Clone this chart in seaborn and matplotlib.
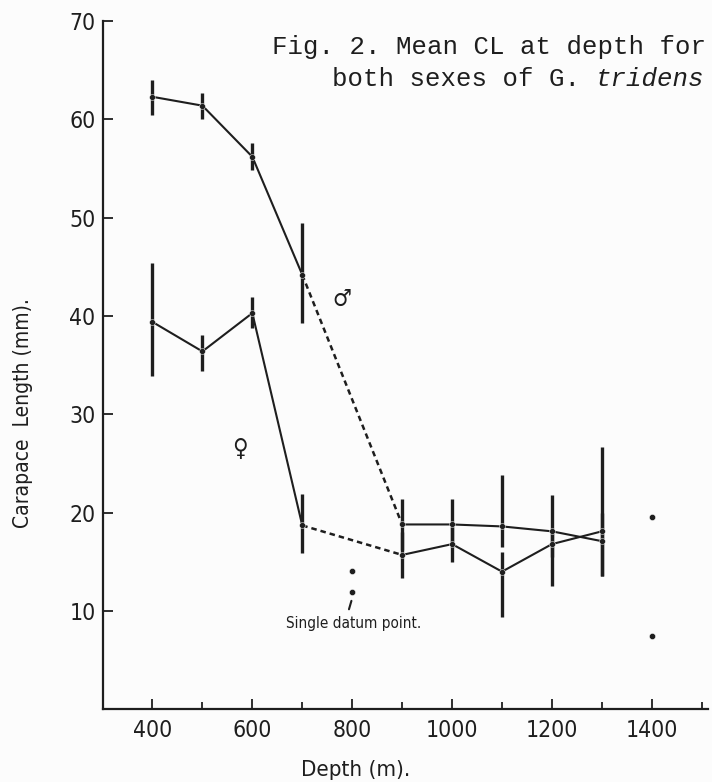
import matplotlib
matplotlib.use("Agg")
import matplotlib.pyplot as plt
import seaborn as sns
import pandas as pd
from matplotlib.ticker import FixedLocator

# mean carapace length (mm) by depth (m)
depth_m = [400, 500, 600, 700, 900, 1000, 1100, 1200, 1300]
male_cl = [62.3, 61.4, 56.2, 44.2, 18.8, 18.8, 18.6, 18.1, 17.1]
male_lo = [60.5, 60.0, 54.9, 39.3, 16.2, 16.5, 16.5, 15.5, 13.6]
male_hi = [64.0, 62.7, 57.6, 49.5, 21.4, 21.4, 23.8, 21.8, 26.7]
female_cl = [39.4, 36.4, 40.3, 18.7, 15.7, 16.8, 14.0, 16.8, 18.1]
female_lo = [33.9, 34.4, 38.8, 15.9, 13.4, 15.0, 9.4, 12.5, 13.6]
female_hi = [45.4, 38.1, 41.9, 21.9, 18.0, 18.5, 16.0, 18.0, 20.0]

# isolated single datum points
single_depth = [800, 800, 1400, 1400]
single_cl = [14.1, 11.9, 19.6, 7.5]

x_ticks = [400, 600, 800, 1000, 1200, 1400]
x_minor = [500, 700, 900, 1100, 1300, 1500]
y_ticks = [10, 20, 30, 40, 50, 60, 70]

df = pd.DataFrame({"depth": depth_m, "male": male_cl, "female": female_cl})

sns.set_style("ticks")
plt.rcParams["font.family"] = ["DejaVu Sans"]
plt.rcParams["font.stretch"] = "condensed"
ink = "#1e1e1e"

fig = plt.figure(figsize=(7.12, 7.82), dpi=100, facecolor="#fcfcfc")
ax = fig.add_axes([0.144, 0.093, 0.85, 0.880])
ax.set_facecolor("#fcfcfc")

for col in ["male", "female"]:
    # solid parts, dashed gap 700 -> 900
    sns.lineplot(data=df.iloc[0:4], x="depth", y=col, ax=ax, color=ink, lw=1.5, sort=False)
    sns.lineplot(data=df.iloc[3:5], x="depth", y=col, ax=ax, color=ink, lw=1.8,
                 linestyle=(0, (2.2, 1.6)), sort=False)
    sns.lineplot(data=df.iloc[4:], x="depth", y=col, ax=ax, color=ink, lw=1.5, sort=False)
    sns.scatterplot(data=df, x="depth", y=col, ax=ax, color=ink, s=18, zorder=4)

ax.vlines(depth_m, male_lo, male_hi, color=ink, lw=2.4)
ax.vlines(depth_m, female_lo, female_hi, color=ink, lw=2.4)

sns.scatterplot(x=single_depth, y=single_cl, ax=ax, color=ink, s=20, zorder=4)

ax.annotate("", xy=(800, 11.3), xytext=(792, 9.9),
            arrowprops=dict(arrowstyle="-", color=ink, lw=1.5))
ax.text(668, 8.7, "Single datum point.", fontsize=11, color=ink, va="center", ha="left")

ax.text(780, 41.7, "\u2642", fontsize=17, color=ink, ha="center", va="center")
ax.text(575, 26.5, "\u2640", fontsize=17, color=ink, ha="center", va="center")

ax.set_xlim(300, 1512)
ax.set_ylim(0, 70)
ax.set_xticks(x_ticks)
ax.xaxis.set_minor_locator(FixedLocator(x_minor))
ax.set_yticks(y_ticks)
ax.tick_params(axis="both", which="major", direction="in", length=7, width=1.3,
               labelsize=16.5, colors=ink)
ax.tick_params(axis="x", which="major", pad=7)
ax.tick_params(axis="y", which="major", pad=5)
ax.tick_params(axis="x", which="minor", direction="in", length=5, width=1.3, colors=ink)
ax.set_xlabel("Depth (m).", fontsize=16, color=ink)
ax.set_ylabel("Carapace  Length (mm).", fontsize=15, color=ink)
ax.xaxis.set_label_coords(0.419, -0.073)
ax.yaxis.set_label_coords(-0.115, 0.43)
sns.despine(ax=ax)
for side in ["left", "bottom"]:
    ax.spines[side].set_linewidth(1.6)
    ax.spines[side].set_color(ink)

# caption in typewriter style, right aligned
mono = dict(family="Liberation Mono", stretch="normal", fontsize=18.5, color=ink, va="center")
fig.text(706 / 712, 1 - 47 / 782, "Fig. 2. Mean CL at depth for", ha="right", **mono)
fig.text(580 / 712, 1 - 79 / 782, "both sexes of G.", ha="right", **mono)
fig.text(596 / 712, 1 - 79 / 782, "tridens", ha="left", style="italic", **mono)

fig.savefig("out.png", dpi=100, facecolor=fig.get_facecolor())
